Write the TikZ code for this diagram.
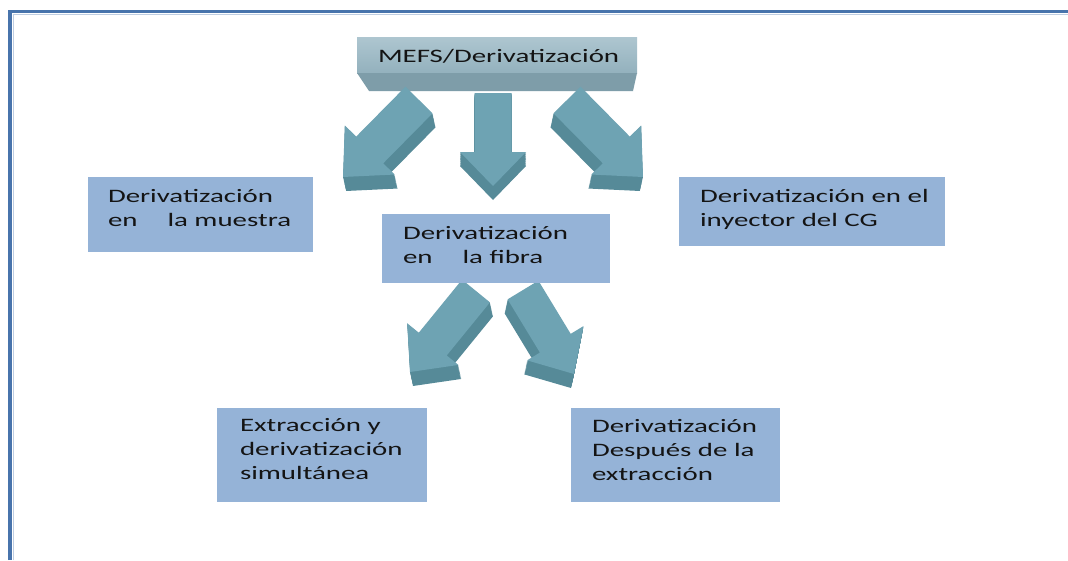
\documentclass[tikz,border=0pt]{standalone}
\usepackage{fontspec}
\setmainfont{Carlito}[FakeStretch=1.52]
\definecolor{boxblue}{HTML}{95B3D7}
\definecolor{arrtop}{HTML}{6EA3B3}
\definecolor{arrside}{HTML}{568A98}
\definecolor{topfaceA}{HTML}{AEC6D0}
\definecolor{topfaceB}{HTML}{93B1BD}
\definecolor{topbevel}{HTML}{7E9DA9}
\definecolor{framebl}{HTML}{4874AC}
\definecolor{textcol}{HTML}{141414}
\tikzset{
  bx/.style={fill=boxblue, draw=none, rectangle, anchor=north west, inner sep=0pt, outer sep=0pt},
  txt/.style={anchor=base west, inner sep=0pt, outer sep=0pt, align=left, text=textcol,
    font=\fontsize{19}{24}\selectfont},
}
% face of a block arrow along +x: length, shaft width, head width, head length
\newcommand{\bAface}[5]{%
  \fill[#1] (0,{-#3/2}) -- ({#2-#5},{-#3/2}) -- ({#2-#5},{-#4/2}) -- (#2,0)
     -- ({#2-#5},{#4/2}) -- ({#2-#5},{#3/2}) -- (0,{#3/2}) -- cycle;}
% tailx taily tipx tipy shaftw headw headl dx dy
\newcommand{\blockarr}[9]{%
  \pgfmathsetmacro\bAang{atan2(-(#4-#2),#3-#1)}%
  \pgfmathsetmacro\bAlen{veclen(#3-#1,#4-#2)}%
  \foreach \k in {1,...,16}{%
    \begin{scope}[shift={({#8*\k/16},{#9*\k/16})}]
      \begin{scope}[shift={(#1,#2)},rotate=\bAang]
        \bAface{arrside}{\bAlen}{#5}{#6}{#7}
      \end{scope}
    \end{scope}}%
  \begin{scope}[shift={(#1,#2)},rotate=\bAang]
    \bAface{arrtop}{\bAlen}{#5}{#6}{#7}
  \end{scope}}
\begin{document}
\begin{tikzpicture}[x=1pt,y=-1pt]
\useasboundingbox (0,0) rectangle (1068,560);
\fill[white] (0,0) rectangle (1068,560);
% frame
\draw[framebl, line width=3.5pt] (10,560) -- (10,11.5) -- (1068,11.5);
\draw[framebl!35, line width=1pt] (13,560) -- (13,14.5) -- (1068,14.5);

% top 3D box
\node[anchor=north west, minimum width=280pt, minimum height=36pt, inner sep=0pt, outer sep=0pt,
  top color=topfaceA, bottom color=topfaceB] (top) at (357,37) {};
\fill[topbevel] (top.south west) -- (top.south east) -- ++(-4,18) -- ([xshift=12pt,yshift=-18pt]top.south west) -- cycle;
\node[txt] (ttop) at (378,62) {MEFS/Derivatización};

% arrows
\blockarr{419}{100}{343}{177}{38}{70}{38}{3}{14}
\blockarr{493}{93}{493}{186}{37}{66}{34}{0}{14}
\blockarr{567}{100}{643}{177}{38}{70}{38}{-3}{14}
\blockarr{476}{291}{410}{372}{36}{66}{36}{3}{14}
\blockarr{523}{290}{574}{374}{36}{66}{36}{-3}{14}

% boxes
\node[bx, minimum width=225pt, minimum height=75pt] (b1) at (88,177) {};
\node[txt] (t1) at (108,226) {Derivatización\\en\hspace{30pt}la muestra};

\node[bx, minimum width=228pt, minimum height=69pt] (b2) at (382,214) {};
\node[txt] (t2) at (403,263) {Derivatización\\en\hspace{30pt}la fibra};

\node[bx, minimum width=266pt, minimum height=69pt] (b3) at (679,177) {};
\node[txt] (t3) at (700,226) {Derivatización en el\\inyector del CG};

\node[bx, minimum width=210pt, minimum height=94pt] (b4) at (217,408) {};
\node[txt] (t4) at (240,479) {Extracción y\\derivatización\\simultánea};

\node[bx, minimum width=209pt, minimum height=94pt] (b5) at (571,408) {};
\node[txt] (t5) at (592,480) {Derivatización\\Después de la\\extracción};
\end{tikzpicture}
\end{document}
